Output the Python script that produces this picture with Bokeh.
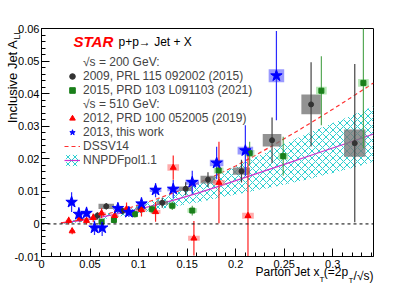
import numpy as np
from bokeh.plotting import figure
from bokeh.models import (Range1d, FixedTicker, CustomJSTickFormatter, Span, Label, Title,
                          Legend, LegendItem)
from bokeh.embed import file_html
from bokeh.resources import INLINE

# ---------------- data ----------------
X_TICKS = [0, 0.05, 0.1, 0.15, 0.2, 0.25, 0.3]
Y_TICKS = [-0.01, 0, 0.01, 0.02, 0.03, 0.04, 0.05, 0.06]

# 2009 (200 GeV) black
BLACK_X = [0.0574, 0.0667, 0.0832, 0.102, 0.1244, 0.1485, 0.1715, 0.206, 0.2375, 0.2777, 0.3227]
BLACK_Y = [0.0025, 0.0054, 0.0040, 0.0046, 0.0065, 0.0108, 0.0136, 0.0162, 0.0257, 0.0367, 0.0248]
BLACK_ERR = [0.0012, 0.001, 0.001, 0.0012, 0.0015, 0.002, 0.0023, 0.0035, 0.007, 0.0129, 0.0243]
BLACK_SYS_X = [0.004, 0.008, 0.005, 0.005, 0.006, 0.007, 0.0077, 0.0088, 0.0096, 0.010, 0.011]
BLACK_SYS_Y = [0.0004, 0.0008, 0.0004, 0.0005, 0.0006, 0.0007, 0.0012, 0.0011, 0.0019, 0.003, 0.0042]

# 2015 (200 GeV) green
GREEN_X = [0.0619, 0.0746, 0.0962, 0.114, 0.1347, 0.1553, 0.1825, 0.2144, 0.249, 0.2883, 0.3316]
GREEN_Y = [0.0007, 0.0012, 0.003, 0.0045, 0.0056, 0.0041, 0.0164, 0.0217, 0.0208, 0.0409, 0.0433]
GREEN_ERR = [0.0008, 0.001, 0.001, 0.0012, 0.0013, 0.0015, 0.003, 0.0035, 0.006, 0.0106, 0.020]
GREEN_SYS_X = [0.003, 0.003, 0.003, 0.004, 0.004, 0.005, 0.005, 0.005, 0.005, 0.0055, 0.0055]
GREEN_SYS_Y = [0.0004, 0.0004, 0.0004, 0.0005, 0.0005, 0.0007, 0.0009, 0.001, 0.001, 0.0012, 0.0012]

# 2012 (510 GeV) red
RED_X = [0.028, 0.0316, 0.0395, 0.0464, 0.0533, 0.0619, 0.0753, 0.0876, 0.103, 0.1175, 0.1357, 0.157, 0.1828, 0.2127]
RED_Y = [0.001, -0.0022, 0.0017, 0.001, 0.0019, 0.0033, 0.0025, 0.0046, 0.0043, 0.0037, 0.0173, -0.0044, 0.0127, 0.0025]
RED_ERR = [0.0012, 0.001, 0.0012, 0.0012, 0.0013, 0.0015, 0.0017, 0.002, 0.002, 0.003, 0.0037, 0.0053, 0.0125, 0.021]
RED_SYS_X = [0.003, 0.003, 0.003, 0.003, 0.004, 0.004, 0.004, 0.005, 0.005, 0.005, 0.006, 0.006, 0.006, 0.006]
RED_SYS_Y = [0.0003, 0.0003, 0.0003, 0.0003, 0.0004, 0.0004, 0.0004, 0.0005, 0.0005, 0.0006, 0.001, 0.0008, 0.0008, 0.0009]

# 2013 (510 GeV) blue, this work
BLUE_X = [0.031, 0.0385, 0.0464, 0.0546, 0.0625, 0.0787, 0.090, 0.103, 0.1175, 0.1357, 0.1553, 0.1804, 0.210, 0.242]
BLUE_Y = [0.0067, 0.003, 0.0033, -0.0012, -0.0012, 0.0048, 0.0036, 0.0062, 0.0104, 0.0107, 0.0128, 0.0187, 0.0225, 0.0455]
BLUE_ERR = [0.003, 0.0022, 0.002, 0.0022, 0.0025, 0.0015, 0.0015, 0.002, 0.0022, 0.0028, 0.0035, 0.005, 0.0078, 0.0137]
BLUE_SYS_X = [0.004, 0.004, 0.004, 0.004, 0.004, 0.005, 0.005, 0.005, 0.006, 0.006, 0.007, 0.007, 0.008, 0.008]
BLUE_SYS_Y = [0.0004, 0.0004, 0.0004, 0.0004, 0.0004, 0.0005, 0.0005, 0.0005, 0.0006, 0.0007, 0.0008, 0.001, 0.0012, 0.002]

# theory curves
DSSV_X = [0.02, 0.04, 0.06, 0.08, 0.10, 0.12, 0.14, 0.16, 0.18, 0.20, 0.22, 0.24, 0.26, 0.28, 0.30, 0.32, 0.342]
DSSV_Y = [0.0003, 0.0012, 0.0025, 0.0040, 0.0058, 0.0078, 0.0100, 0.0124, 0.0150, 0.0178, 0.0210, 0.0244, 0.0279, 0.0315, 0.0352, 0.0390, 0.0433]
NN_X = [0.02, 0.04, 0.06, 0.08, 0.10, 0.12, 0.14, 0.16, 0.18, 0.20, 0.22, 0.24, 0.26, 0.28, 0.30, 0.32, 0.342]
NN_Y = [0.0003, 0.001, 0.002, 0.0032, 0.0045, 0.006, 0.0076, 0.0094, 0.0113, 0.0133, 0.0153, 0.0173, 0.0193, 0.0213, 0.0233, 0.0253, 0.0276]
NN_ERR = [0.0003, 0.0005, 0.0007, 0.0009, 0.0012, 0.0016, 0.0021, 0.0028, 0.0035, 0.0043, 0.0051, 0.0059, 0.0066, 0.0072, 0.0077, 0.0081, 0.0085]

FONT = "Liberation Sans"

# canvas sits at the window's top-left corner (Bokeh's page template has no body margin)
p = figure(width=415, height=283, output_backend="svg", toolbar_location=None, title=None,
           x_range=Range1d(0, 0.342), y_range=Range1d(-0.01, 0.06),
           min_border_left=41, min_border_right=42, min_border_top=28, min_border_bottom=26)
p.xgrid.visible = False
p.ygrid.visible = False
p.outline_line_color = "black"
p.outline_line_alpha = 1
p.background_fill_color = "white"

p.xaxis.ticker = FixedTicker(ticks=X_TICKS, minor_ticks=list(np.round(np.arange(0, 0.3425, 0.01), 4)))
p.yaxis.ticker = FixedTicker(ticks=Y_TICKS, minor_ticks=list(np.round(np.arange(-0.01, 0.0601, 0.002), 4)))
fmt = CustomJSTickFormatter(code="return String(Math.round(tick*1000)/1000)")
p.xaxis.formatter = fmt
p.yaxis.formatter = fmt
for ax in (p.xaxis, p.yaxis):
    ax.major_tick_in = 8
    ax.major_tick_out = 0
    ax.minor_tick_in = 4
    ax.minor_tick_out = 0
    ax.axis_line_color = "black"
    ax.major_tick_line_color = "black"
    ax.minor_tick_line_color = "black"
    ax.major_label_text_font = FONT
    ax.major_label_text_font_size = "11px"
    ax.major_label_text_color = "black"
    ax.major_label_standoff = 3
p.yaxis.major_label_standoff = 2

p.add_layout(Span(location=0, dimension="width", line_dash="3 3", line_color="black", line_width=1))

# theory
band = p.varea(x=NN_X, y1=np.array(NN_Y) - np.array(NN_ERR), y2=np.array(NN_Y) + np.array(NN_ERR),
               fill_color=None, fill_alpha=0, hatch_pattern="diagonal_cross", hatch_color="#2ccfcf",
               hatch_scale=7, hatch_weight=1)
nnline = p.line(NN_X, NN_Y, line_color="#cc33cc", line_width=1.2)
dssv = p.line(DSSV_X, DSSV_Y, line_color="#ff3030", line_dash="4 3", line_width=1.2)


def boxes(xs, ys, hx, hy, color, alpha):
    xs, ys, hx, hy = map(np.array, (xs, ys, hx, hy))
    p.quad(left=xs - hx, right=xs + hx, bottom=ys - hy, top=ys + hy,
           fill_color=color, fill_alpha=alpha, line_color=None)


def bars(xs, ys, err, color, alpha=1.0):
    xs, ys, err = map(np.array, (xs, ys, err))
    p.segment(x0=xs, y0=ys - err, x1=xs, y1=ys + err, line_color=color, line_width=1.2, line_alpha=alpha)


boxes(BLACK_X, BLACK_Y, BLACK_SYS_X, BLACK_SYS_Y, "#777777", 0.8)
boxes(GREEN_X, GREEN_Y, GREEN_SYS_X, GREEN_SYS_Y, "#99e099", 0.7)
boxes(RED_X, RED_Y, RED_SYS_X, RED_SYS_Y, "#ff8080", 0.65)
boxes(BLUE_X, BLUE_Y, BLUE_SYS_X, BLUE_SYS_Y, "#6f6fff", 0.7)

bars(BLACK_X, BLACK_Y, BLACK_ERR, "#444444")
bars(GREEN_X, GREEN_Y, GREEN_ERR, "#3a9a3a", 0.85)
bars(RED_X, RED_Y, RED_ERR, "#ff2020")
bars(BLUE_X, BLUE_Y, BLUE_ERR, "#2a2aff")

black = p.scatter(BLACK_X, BLACK_Y, marker="circle", size=5, fill_color="#333333", line_color="#333333")
green = p.scatter(GREEN_X, GREEN_Y, marker="square", size=5, fill_color="#1a7f1a", line_color="#1a7f1a")
red = p.scatter(RED_X, RED_Y, marker="triangle", size=6, fill_color="#ff0000", line_color="#ff0000")
blue = p.scatter(BLUE_X, BLUE_Y, marker="star", size=12, fill_color="#0000ff", line_color="#0000ff")
dummy = p.scatter(x=[], y=[], marker="circle", size=1, fill_alpha=0, line_alpha=0)

legend = Legend(items=[
    LegendItem(label="√s = 200 GeV:", renderers=[dummy]),
    LegendItem(label="2009, PRL 115 092002 (2015)", renderers=[black]),
    LegendItem(label="2015, PRD 103 L091103 (2021)", renderers=[green]),
    LegendItem(label="√s = 510 GeV:", renderers=[dummy]),
    LegendItem(label="2012, PRD 100 052005 (2019)", renderers=[red]),
    LegendItem(label="2013, this work", renderers=[blue]),
    LegendItem(label="DSSV14", renderers=[dssv]),
    LegendItem(label="NNPDFpol1.1", renderers=[band, nnline]),
], location=(23, 89))
legend.border_line_color = None
legend.background_fill_alpha = 0
legend.padding = 0
legend.margin = 0
legend.spacing = 0
legend.label_height = 14
legend.glyph_height = 14
legend.glyph_width = 16
legend.label_standoff = 3
legend.label_text_font = FONT
legend.label_text_font_size = "12px"
legend.label_text_baseline = "middle"
p.add_layout(legend)

# header text inside the frame (screen units relative to the frame's bottom-left corner)
p.add_layout(Label(x=32, y=215, x_units="screen", y_units="screen", text="STAR", text_color="#ff0000",
                   text_font=FONT, text_font_style="bold italic", text_font_size="15px", text_baseline="middle"))
p.add_layout(Label(x=77, y=215, x_units="screen", y_units="screen", text="p+p→ Jet + X", text_color="black",
                   text_font=FONT, text_font_size="12px", text_baseline="middle"))


def side_title(text, side, size, offset, standoff, valign):
    p.add_layout(Title(text=text, align="right", vertical_align=valign, offset=offset, standoff=standoff,
                       text_font=FONT, text_font_size=f"{size}px", text_font_style="normal",
                       text_color="black"), side)


# y axis title: "Inclusive Jet A" with subscript "LL"
side_title("Inclusive Jet A", "left", 13, 11, -16, "bottom")
side_title("LL", "left", 9, 1, -22, "bottom")

# x axis title: "Parton Jet x_T (=2p_T/√s)"
side_title("Parton Jet x", "below", 12, 54, -12, "top")
side_title(" (=2p", "below", 12, 22, -20, "top")
side_title("/√s)", "below", 12, 0, -12, "top")
side_title("T", "below", 8, 20, -6, "top")
side_title("T", "below", 8, 49, -18, "top")

open("out.html", "w").write(file_html(p, INLINE))
